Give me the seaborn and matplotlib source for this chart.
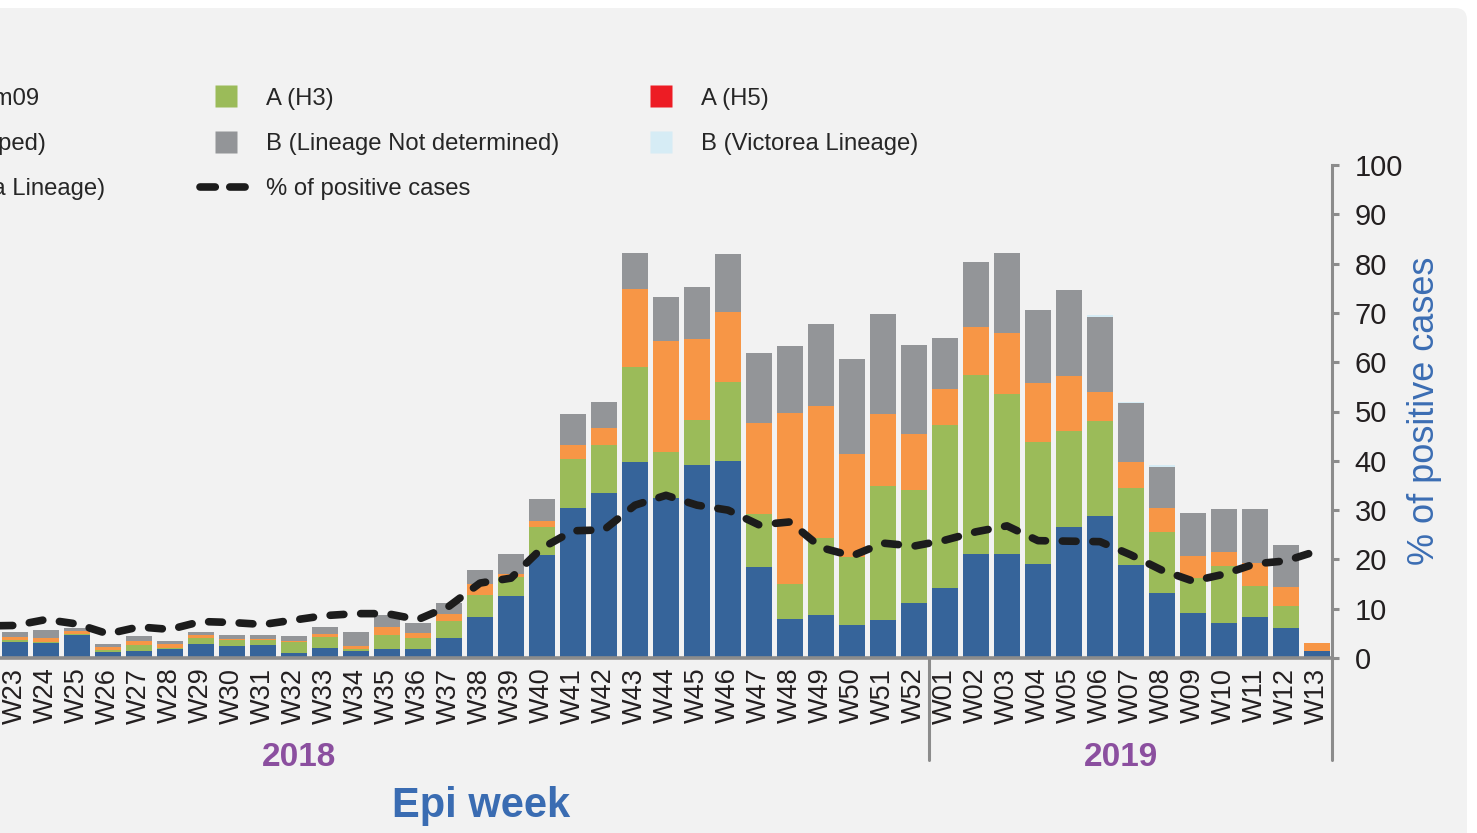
import numpy as np
import pandas as pd
import matplotlib
matplotlib.use("Agg")
import matplotlib.pyplot as plt
import matplotlib.transforms as mtransforms
import seaborn as sns
from matplotlib.lines import Line2D
from matplotlib.patches import FancyBboxPatch

# epi weeks shown (W22 sits just off the left edge of the crop)
weeks = ["W%02d" % w for w in range(22, 53)] + ["W%02d" % w for w in range(1, 14)]

# values in units of the right-hand axis (0-100)
h1n1 = [3.0, 3.2, 3.0, 4.6, 1.3, 1.4, 1.8, 2.8, 2.4, 2.6, 1.0, 2.0, 1.5, 1.9, 1.9, 4.0,
        8.3, 12.6, 20.9, 30.5, 33.4, 39.7, 32.4, 39.1, 40.0, 18.4, 8.0, 8.7, 6.7, 7.7, 11.2,
        14.3, 21.1, 21.1, 19.1, 26.6, 28.8, 18.9, 13.1, 9.1, 7.0, 8.4, 6.1, 1.4]
h3 = [0.4, 0.4, 0.3, 0.3, 0.3, 1.2, 0.3, 1.2, 1.2, 1.1, 2.2, 2.3, 0.3, 2.8, 2.2, 3.6,
      4.4, 3.9, 5.6, 9.8, 9.8, 19.3, 9.3, 9.1, 16.0, 10.8, 7.0, 15.6, 13.8, 27.2, 22.9,
      33.0, 36.3, 32.4, 24.7, 19.5, 19.3, 15.6, 12.5, 7.1, 11.7, 6.3, 4.5, 0.0]
h5 = [0.0] * 44
not_subtyped = [0.6, 0.7, 0.8, 0.5, 0.7, 0.9, 0.8, 0.6, 0.3, 0.1, 0.3, 0.5, 0.7, 1.6, 1.0, 1.3,
                2.4, 0.5, 1.2, 2.9, 3.5, 15.8, 22.5, 16.6, 14.2, 18.4, 34.6, 26.9, 20.9, 14.6, 11.3,
                7.2, 9.7, 12.4, 11.9, 11.2, 5.8, 5.3, 4.8, 4.5, 2.9, 4.5, 3.9, 1.7]
b_not_det = [1.0, 1.0, 1.5, 0.7, 0.5, 0.9, 0.5, 0.7, 0.7, 0.9, 0.9, 1.4, 2.8, 2.4, 2.0, 2.3,
             2.8, 4.1, 4.5, 6.3, 5.2, 7.4, 9.1, 10.5, 11.7, 14.2, 13.6, 16.5, 19.2, 20.3, 18.1,
             10.4, 13.3, 16.3, 14.9, 17.3, 15.3, 11.9, 8.4, 8.8, 8.6, 11.0, 8.4, 0.0]
b_victoria = [0.0] * 36 + [0.3, 0.3, 0.3] + [0.0] * 5
b_yamagata = [0.0] * 44
pct_positive = [6.5, 6.6, 7.8, 6.9, 4.9, 6.3, 5.8, 7.4, 7.2, 6.8, 7.7, 8.6, 9.0, 9.0, 7.8, 10.5,
                15.2, 16.2, 22.3, 25.8, 26.0, 31.0, 33.0, 31.0, 30.0, 27.0, 27.6, 22.4, 20.7, 23.3, 22.7,
                23.9, 25.6, 26.8, 23.8, 23.7, 23.6, 20.9, 17.8, 15.6, 17.0, 19.1, 19.7, 21.7]

series = [
    ("A(H1N1)pdm09", h1n1, "#36649a"),
    ("A (H3)", h3, "#9bbb59"),
    ("A (H5)", h5, "#ed1c24"),
    ("A (Not subtyped)", not_subtyped, "#f79646"),
    ("B (Lineage Not determined)", b_not_det, "#939598"),
    ("B (Victorea Lineage)", b_victoria, "#d6ecf5"),
    ("B (Yamagata Lineage)", b_yamagata, "#7d4f9c"),
]

W, H = 1477, 833
sns.set_theme(style="white")
plt.rcParams["font.family"] = ["Liberation Sans", "DejaVu Sans"]

fig = plt.figure(figsize=(W / 100, H / 100), dpi=100, facecolor="white")
panel = FancyBboxPatch((-0.5, -0.5), 15.17, 8.75, boxstyle="round,pad=0,rounding_size=0.12",
                       transform=fig.dpi_scale_trans, facecolor="#f2f2f2", edgecolor="none", zorder=-10)
fig.patches.append(panel)

ax = fig.add_axes([-31.5 / W, 175 / H, 1364 / W, 493 / H])
ax.patch.set_alpha(0)

df = pd.DataFrame({"week": weeks})
cum = np.zeros(len(weeks))
layers = []
for name, vals, col in series:
    cum = cum + np.array(vals)
    layers.append((name, cum.copy(), col))

# draw the cumulative totals from the top layer down so each colour shows as a segment
for name, top, col in reversed(layers):
    df["top"] = top
    sns.barplot(data=df, x="week", y="top", order=weeks, color=col, saturation=1,
                width=0.87, errorbar=None, linewidth=0, ax=ax)

x = np.arange(len(weeks))
ax.plot(x, pct_positive, color="#1c1c1c", lw=5.5, dashes=(1.8, 2.2),
        dash_capstyle="round", zorder=5)

grey = "#8c8c8c"
ax.set_xlim(-0.5, len(weeks) - 0.5)
ax.set_ylim(0, 100)
ax.set_xlabel("")
ax.set_ylabel("")
ax.set_xticks(x)
ax.set_xticklabels(weeks, rotation=90, fontsize=19.5, color="#231f20")
ax.set_xticks(np.arange(len(weeks) + 1) - 0.5, minor=True)
ax.tick_params(axis="x", which="major", length=0, pad=7)
ax.tick_params(axis="x", which="minor", length=43, width=2.2, color=grey, direction="out")

ax.yaxis.tick_right()
ax.set_yticks(range(0, 101, 10))
ax.tick_params(axis="y", which="major", right=True, left=False, length=5, width=2.2,
               color=grey, direction="out", labelsize=21, pad=11, labelcolor="#231f20")
for s in ["left", "top"]:
    ax.spines[s].set_visible(False)
ax.spines["right"].set_color(grey)
ax.spines["right"].set_linewidth(2.2)
ax.spines["bottom"].set_color(grey)
ax.spines["bottom"].set_linewidth(2.6)
ax.grid(False)

# year separators below the axis
trans = mtransforms.blended_transform_factory(ax.transData, ax.transAxes)
for xs in [weeks.index("W01") - 0.5, len(weeks) - 0.5]:
    ax.plot([xs, xs], [0, -0.207], transform=trans, color=grey, lw=2.2, clip_on=False)

fig.text(299 / W, 1 - 757 / H, "2018", ha="center", va="center", fontsize=24,
         fontweight="bold", color="#8b4f9f")
fig.text(1121 / W, 1 - 757 / H, "2019", ha="center", va="center", fontsize=24,
         fontweight="bold", color="#8b4f9f")
fig.text(481 / W, 1 - 806 / H, "Epi week", ha="center", va="center", fontsize=30,
         fontweight="bold", color="#3a6cb2")
fig.text(1424 / W, 1 - 411 / H, "% of positive cases", ha="center", va="center",
         rotation=90, fontsize=26, color="#3b6db3")

# legend, one block per column
colors = {name: col for name, vals, col in series}


def square(name):
    return Line2D([0], [0], marker="s", linestyle="none", markersize=16.5,
                  markerfacecolor=colors[name], markeredgecolor="none")


line_handle = Line2D([0], [0], color="#1c1c1c", lw=5.5, dashes=(2.0, 1.9), dash_capstyle="round")
columns = [
    (-198, ["A(H1N1)pdm09", "A (Not subtyped)", "B (Yamagata Lineage)"]),
    (200, ["A (H3)", "B (Lineage Not determined)", "% of positive cases"]),
    (635, ["A (H5)", "B (Victorea Lineage)"]),
]
for x0, names in columns:
    handles = [line_handle if n == "% of positive cases" else square(n) for n in names]
    labels = ["A (H1N1)pdm09" if n == "A(H1N1)pdm09" else n for n in names]
    fig.legend(handles, labels, loc="upper left", bbox_to_anchor=(x0 / W, 1 - 87.5 / H),
               bbox_transform=fig.transFigure, frameon=False, borderpad=0, borderaxespad=0,
               handlelength=2.2, handletextpad=0.55, labelspacing=0.98, fontsize=17.2,
               labelcolor="#262626")

fig.savefig("out.png", dpi=100, facecolor="white")
